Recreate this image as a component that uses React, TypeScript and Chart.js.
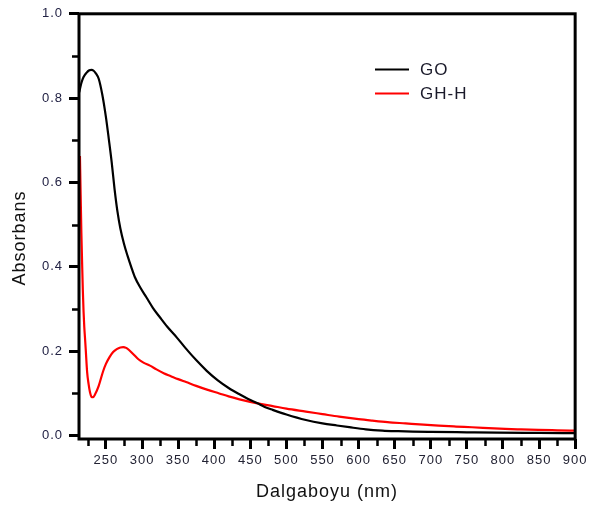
import React, { useEffect, useRef } from 'react';
import { Chart, registerables } from 'chart.js';

Chart.register(...registerables);

const goWavelength = [213, 216, 219, 223, 227, 230, 233, 236, 240, 245, 250, 254, 258, 262, 266, 270, 275, 280, 285, 290, 298, 306, 315, 325, 335, 348, 360, 375, 390, 405, 420, 435, 447, 460, 470, 481, 500, 527, 550, 570, 587, 610, 633, 655, 675, 700, 750, 792, 850, 900];
const goAbsorbance = [0.814, 0.836, 0.85, 0.86, 0.866, 0.867, 0.865, 0.859, 0.846, 0.808, 0.755, 0.703, 0.648, 0.584, 0.531, 0.491, 0.455, 0.426, 0.4, 0.376, 0.35, 0.328, 0.303, 0.28, 0.258, 0.233, 0.208, 0.179, 0.153, 0.131, 0.113, 0.098, 0.087, 0.0765, 0.068, 0.061, 0.05, 0.037, 0.029, 0.024, 0.02, 0.015, 0.012, 0.0105, 0.0095, 0.0088, 0.0078, 0.007, 0.0063, 0.0057];

const ghhWavelength = [214, 215, 216, 217, 218, 219, 220, 221, 222, 224, 226, 228, 230, 232, 235, 240, 246, 250, 255, 260, 265, 270, 274, 278, 282, 288, 295, 302, 311, 320, 330, 340, 350, 361, 375, 390, 407, 420, 435, 460, 481, 500, 527, 550, 573, 600, 619, 640, 665, 690, 711, 735, 757, 780, 803, 825, 849, 875, 900];
const ghhAbsorbance = [0.663, 0.57, 0.48, 0.41, 0.345, 0.295, 0.258, 0.232, 0.205, 0.15, 0.122, 0.102, 0.092, 0.091, 0.098, 0.118, 0.152, 0.17, 0.186, 0.198, 0.205, 0.209, 0.21, 0.208, 0.203, 0.193, 0.181, 0.173, 0.166, 0.157, 0.148, 0.141, 0.134, 0.127, 0.118, 0.109, 0.1, 0.093, 0.086, 0.0765, 0.07, 0.064, 0.057, 0.051, 0.045, 0.039, 0.0355, 0.032, 0.029, 0.026, 0.0236, 0.0215, 0.0198, 0.0178, 0.0158, 0.0146, 0.0135, 0.0126, 0.0118];

const seriesLabels = ['GO', 'GH-H'];
const seriesColors = ['#000000', '#ff0000'];

const xMajorTicks = [250, 300, 350, 400, 450, 500, 550, 600, 650, 700, 750, 800, 850, 900];
const xMinorTicks = [225, 275, 325, 375, 425, 475, 525, 575, 625, 675, 725, 775, 825, 875];
const yMajorTicks = [0, 0.2, 0.4, 0.6, 0.8, 1.0];
const yMinorTicks = [0.1, 0.3, 0.5, 0.7, 0.9];

const xTitle = 'Dalgaboyu (nm)';
const yTitle = 'Absorbans';

const FONT = "Arial, 'Liberation Sans', sans-serif";

const framePlugin = {
  id: 'frameAndLegend',
  beforeDraw(chart: any) {
    try { chart.ctx.letterSpacing = '1px'; } catch (e) {}
  },
  afterDatasetsDraw(chart: any) {
    const { ctx, chartArea: a, scales } = chart;
    ctx.save();
    ctx.strokeStyle = '#000';
    ctx.lineWidth = 3;
    ctx.strokeRect(a.left, a.top, a.right - a.left, a.bottom - a.top);
    ctx.lineWidth = 2.5;
    ctx.beginPath();
    xMinorTicks.forEach((v) => {
      const px = Math.round(scales.x.getPixelForValue(v)) + 0.5;
      ctx.moveTo(px, a.bottom);
      ctx.lineTo(px, a.bottom + 7);
    });
    yMinorTicks.forEach((v) => {
      const py = Math.round(scales.y.getPixelForValue(v)) + 0.5;
      ctx.moveTo(a.left, py);
      ctx.lineTo(a.left - 7, py);
    });
    ctx.stroke();

    // y title
    ctx.save();
    ctx.translate(20, 238);
    ctx.rotate(-Math.PI / 2);
    ctx.fillStyle = '#111';
    ctx.font = `18px ${FONT}`;
    ctx.textAlign = 'center';
    ctx.textBaseline = 'middle';
    ctx.fillText(yTitle, 0, 0);
    ctx.restore();

    // legend
    const lx = 375;
    const ly = 69.5;
    const gap = 24;
    chart.data.datasets.forEach((ds: any, i: number) => {
      const y = ly + i * gap;
      ctx.strokeStyle = ds.borderColor;
      ctx.lineWidth = 2;
      ctx.beginPath();
      ctx.moveTo(lx, y);
      ctx.lineTo(lx + 34, y);
      ctx.stroke();
      ctx.fillStyle = '#1a1a2a';
      ctx.font = `17px ${FONT}`;
      ctx.textAlign = 'left';
      ctx.textBaseline = 'middle';
      ctx.fillText(ds.label, lx + 45, y + 1);
    });
    ctx.restore();
  },
};

export default function App() {
  const canvasRef = useRef<HTMLCanvasElement | null>(null);

  useEffect(() => {
    const canvas = canvasRef.current;
    if (!canvas) return;
    const goData = goWavelength.map((x, i) => ({ x, y: goAbsorbance[i] }));
    const ghhData = ghhWavelength.map((x, i) => ({ x, y: ghhAbsorbance[i] }));

    const chart = new Chart(canvas, {
      type: 'line',
      data: {
        datasets: [
          {
            label: seriesLabels[0],
            data: goData,
            borderColor: seriesColors[0],
            borderWidth: 2.2,
            pointRadius: 0,
            cubicInterpolationMode: 'monotone',
            fill: false,
          },
          {
            label: seriesLabels[1],
            data: ghhData,
            borderColor: seriesColors[1],
            borderWidth: 2.2,
            pointRadius: 0,
            cubicInterpolationMode: 'monotone',
            fill: false,
          },
        ],
      },
      options: {
        animation: false,
        responsive: false,
        devicePixelRatio: 1,
        layout: { padding: { top: 12, right: 13, left: 0, bottom: 0 } },
        plugins: {
          legend: { display: false },
          tooltip: { enabled: false },
        },
        scales: {
          x: {
            type: 'linear',
            min: 212.7,
            max: 900,
            afterBuildTicks: (s: any) => {
              s.ticks = xMajorTicks.map((v) => ({ value: v }));
            },
            afterFit: (s: any) => {
              s.height = 71;
            },
            ticks: {
              autoSkip: false,
              maxRotation: 0,
              padding: 4,
              color: '#222233',
              font: { family: FONT, size: 13 },
              callback: (v: any) => String(v),
            },
            grid: {
              display: true,
              drawOnChartArea: false,
              drawTicks: true,
              tickLength: 10,
              tickWidth: 3,
              tickColor: '#000',
            },
            border: { display: false },
            title: {
              display: true,
              text: xTitle,
              color: '#111',
              font: { family: FONT, size: 18 },
              padding: { top: 0, bottom: 7 },
            },
          },
          y: {
            type: 'linear',
            min: -0.008,
            max: 1.0,
            afterBuildTicks: (s: any) => {
              s.ticks = yMajorTicks.map((v) => ({ value: v }));
            },
            afterFit: (s: any) => {
              s.width = 79;
            },
            ticks: {
              autoSkip: false,
              padding: 6,
              color: '#222244',
              font: { family: FONT, size: 13 },
              callback: (v: any) => Number(v).toFixed(1),
            },
            grid: {
              display: true,
              drawOnChartArea: false,
              drawTicks: true,
              tickLength: 10,
              tickWidth: 3,
              tickColor: '#000',
            },
            border: { display: false },
            title: { display: false },
          },
        },
      },
      plugins: [framePlugin],
    });
    return () => chart.destroy();
  }, []);

  return (
    <div style={{ position: 'fixed', left: 0, top: 0, width: 590, height: 510, background: '#fff' }}>
      <canvas ref={canvasRef} width={590} height={510} style={{ display: 'block', width: 590, height: 510 }} />
    </div>
  );
}
